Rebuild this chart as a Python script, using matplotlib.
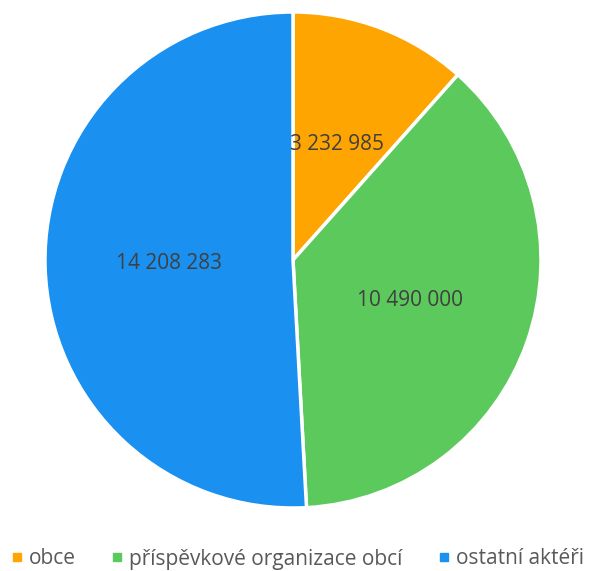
import matplotlib
matplotlib.use("Agg")
import matplotlib.pyplot as plt
from matplotlib.lines import Line2D

categories = ["obce", "příspěvkové organizace obcí", "ostatní aktéři"]
values = [3232985, 10490000, 14208283]
value_labels = ["3 232 985", "10 490 000", "14 208 283"]
colors = ["#FFA502", "#5CC95C", "#1A90F0"]

W, H = 589, 571
fig = plt.figure(figsize=(W / 100, H / 100), dpi=100)
cx, cy, r = 293, 260, 248
ax = fig.add_axes([(cx - r) / W, (H - cy - r) / H, 2 * r / W, 2 * r / H])
wedges, texts = ax.pie(values, colors=colors, startangle=90, counterclock=False,
                       labels=value_labels, labeldistance=0.5, radius=1,
                       wedgeprops=dict(edgecolor="white", linewidth=2.5),
                       textprops=dict(fontsize=15, color="#404040", family="Open Sans",
                                      ha="center", va="center"))
ax.set_xlim(-1.0, 1.0)
ax.set_ylim(-1.0, 1.0)
ax.set_aspect("equal")
ax.axis("off")

# legend entries placed individually to match the reference spacing
legend_x = [8.4, 108.7, 435.7]
for cat, col, lx in zip(categories, colors, legend_x):
    h = Line2D([], [], marker="s", linestyle="none", markersize=5.8,
               markerfacecolor=col, markeredgecolor=col)
    leg = fig.legend([h], [cat], loc="center left",
                     bbox_to_anchor=(lx / W, (H - 559) / H),
                     frameon=False, handletextpad=0.19, handlelength=0.8,
                     borderpad=0, borderaxespad=0,
                     prop=dict(family="Open Sans", size=15), labelcolor="#595959")
fig.savefig("out.png", dpi=100)
